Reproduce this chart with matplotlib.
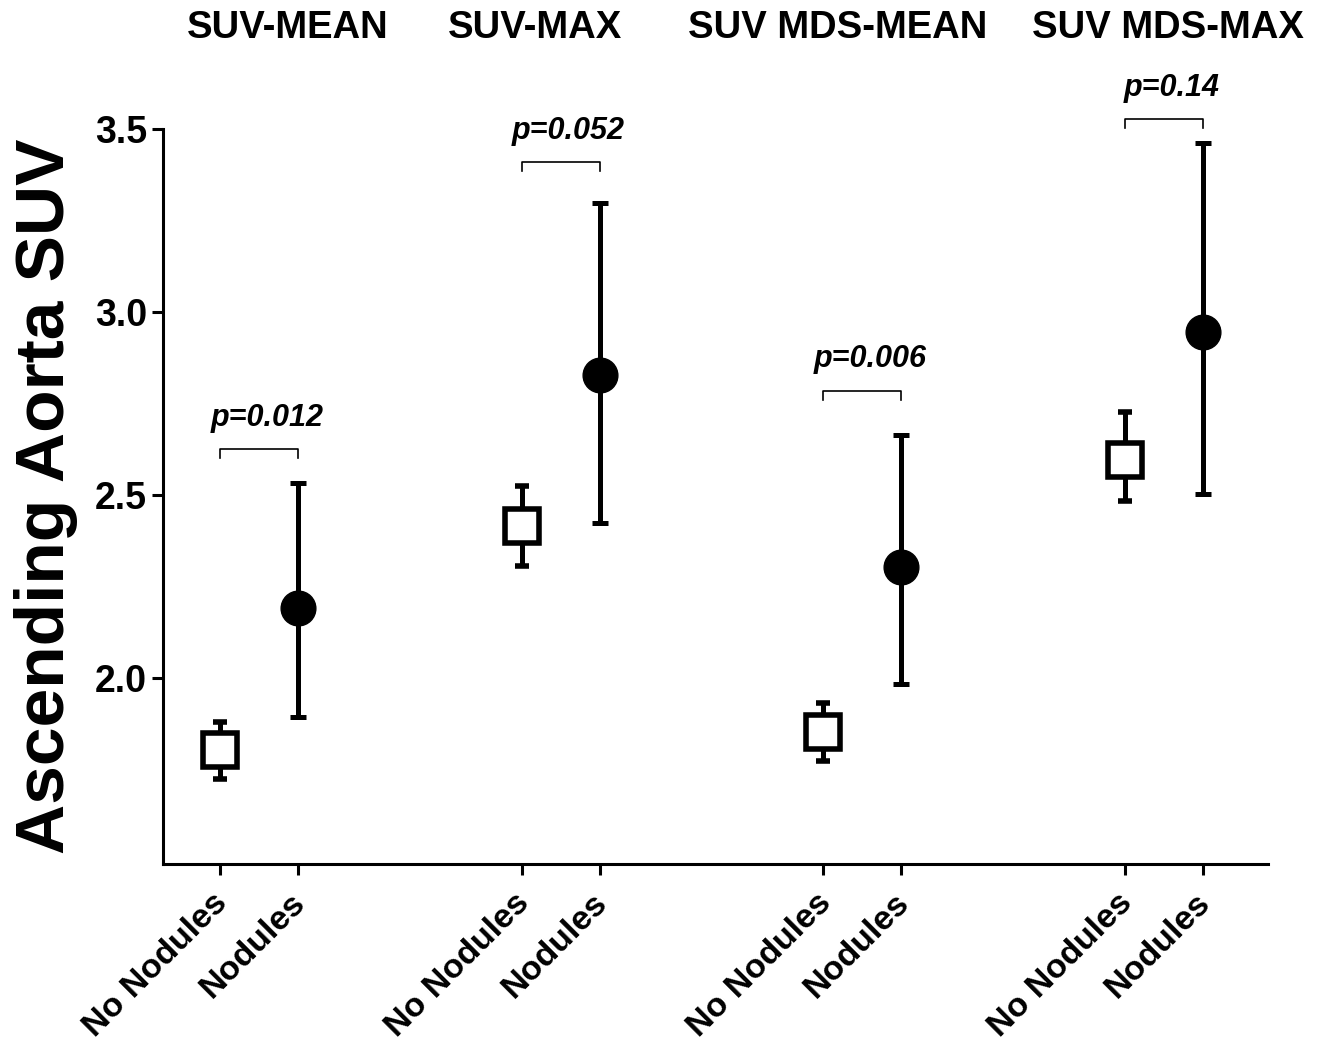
import numpy as np
import matplotlib.pyplot as plt
import matplotlib.transforms as mtransforms

plt.rcParams['font.family'] = ['Liberation Sans', 'DejaVu Sans']

# values
groups = ['SUV-MEAN', 'SUV-MAX', 'SUV MDS-MEAN', 'SUV MDS-MAX']
tick_labels = ['No Nodules', 'Nodules']
p_values = ['p=0.012', 'p=0.052', 'p=0.006', 'p=0.14']

no_mean = [1.804, 2.416, 1.854, 2.596]
no_low = [1.725, 2.307, 1.775, 2.485]
no_high = [1.881, 2.525, 1.933, 2.728]

nod_mean = [2.193, 2.829, 2.305, 2.947]
nod_low = [1.894, 2.425, 1.984, 2.505]
nod_high = [2.534, 3.300, 2.665, 3.462]

bracket_y = [2.626, 3.41, 2.786, 3.528]

fig = plt.figure(figsize=(13.31, 10.47), dpi=100)
ax = fig.add_axes([0.1225, 0.1748, 0.83, 0.7017])

gap = 3.87
x_no = np.arange(4) * gap
x_nod = x_no + 1

no_mean = np.array(no_mean)
nod_mean = np.array(nod_mean)
ax.errorbar(x_no, no_mean,
            yerr=[no_mean - np.array(no_low), np.array(no_high) - no_mean],
            fmt='s', ms=24, mfc='white', mec='black', mew=4, color='black',
            elinewidth=3.6, capsize=5, capthick=3.6, zorder=3)
ax.errorbar(x_nod, nod_mean,
            yerr=[nod_mean - np.array(nod_low), np.array(nod_high) - nod_mean],
            fmt='o', ms=25, mfc='black', mec='black', color='black',
            elinewidth=3.6, capsize=6, capthick=3.6, zorder=3)

# significance brackets
for i in range(4):
    y = bracket_y[i]
    ax.plot([x_no[i], x_no[i], x_nod[i], x_nod[i]], [y - 0.025, y, y, y - 0.025],
            color='black', lw=1.2, clip_on=False)
    ax.text((x_no[i] + x_nod[i]) / 2 + 0.1, y + 0.045, p_values[i], ha='center',
            va='bottom', fontsize=22, fontweight='bold', fontstyle='italic',
            clip_on=False)

# group titles
title_x = [288, 535, 838, 1168]
for i in range(4):
    fig.text(title_x[i] / 1331, 1 - 28 / 1047, groups[i], ha='center', va='center',
             fontsize=27.5, fontweight='bold')

ax.set_xlim(-0.73, 13.44)
ax.set_ylim(1.493, 3.5)
ax.set_yticks([2.0, 2.5, 3.0, 3.5])
ax.set_yticklabels(['2.0', '2.5', '3.0', '3.5'], fontsize=27, fontweight='bold')
xt = np.ravel(np.column_stack([x_no, x_nod]))
ax.set_xticks(xt)
ax.set_xticklabels(tick_labels * 4, rotation=45, ha='right', rotation_mode='anchor',
                   fontsize=24.5, fontweight='bold')

ax.spines['top'].set_visible(False)
ax.spines['right'].set_visible(False)
ax.spines['left'].set_linewidth(2.2)
ax.spines['bottom'].set_linewidth(2.2)
ax.tick_params(axis='both', width=2.2, length=8)
ax.tick_params(axis='x', pad=9)

# nudge the rotated labels a bit to the left
shift = mtransforms.ScaledTranslation(-8 / 100, 0, fig.dpi_scale_trans)
for lab in ax.get_xticklabels():
    lab.set_transform(lab.get_transform() + shift)

ax.set_ylabel('Ascending Aorta SUV', fontsize=50, fontweight='bold', labelpad=12)

fig.savefig('out.png', dpi=100)
